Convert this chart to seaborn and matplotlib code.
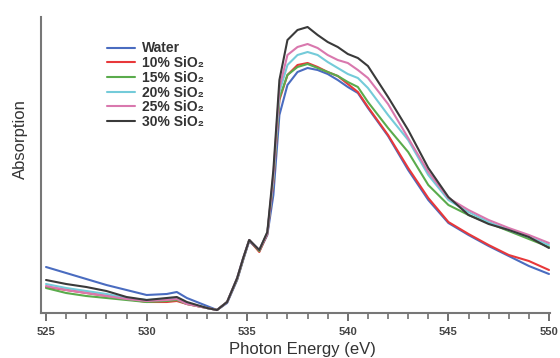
import numpy as np
import pandas as pd
import matplotlib
matplotlib.use("Agg")
import matplotlib.pyplot as plt
import seaborn as sns
from matplotlib.ticker import MultipleLocator

energy = [525, 526, 527, 528, 529, 530, 531, 531.5, 532, 533, 533.5, 534, 534.5, 534.8,
          535.1, 535.6, 536, 536.3, 536.6, 537, 537.5, 538, 538.5, 539, 539.5, 540, 540.5,
          541, 542, 543, 544, 545, 546, 547, 548, 549, 550]

water = [46, 40, 34, 28, 23, 18, 19, 21, 15, 7, 3, 10, 33, 53, 72, 62, 78, 118, 198, 228,
         241, 245, 243, 239, 233, 226, 220, 205, 177, 143, 113, 90, 78, 67, 57, 47, 39]
sio2_10 = [26, 23, 20, 17, 14, 11, 11, 12, 9, 5, 3, 11, 34, 54, 73, 61, 79, 131, 213, 238,
           248, 250, 246, 241, 237, 229, 221, 206, 178, 145, 115, 91, 79, 68, 58, 52, 43]
sio2_15 = [25, 20, 17, 15, 13, 11, 12, 13, 9, 5, 3, 11, 34, 54, 73, 62, 80, 133, 215, 238,
           246, 249, 245, 241, 237, 231, 226, 211, 185, 161, 128, 108, 98, 90, 82, 74, 66]
sio2_20 = [29, 25, 22, 19, 15, 13, 14, 15, 10, 5, 3, 11, 35, 55, 73, 63, 80, 135, 221, 248,
           258, 261, 258, 251, 245, 239, 235, 225, 198, 173, 138, 113, 101, 91, 83, 76, 68]
sio2_25 = [27, 23, 20, 17, 14, 12, 13, 14, 9, 5, 3, 11, 35, 55, 73, 63, 80, 138, 225, 258,
           266, 269, 265, 258, 253, 250, 243, 235, 209, 175, 141, 115, 103, 93, 85, 78, 70]
sio2_30 = [33, 29, 26, 22, 16, 13, 15, 16, 11, 5, 3, 11, 35, 55, 73, 63, 81, 143, 233, 273,
           283, 286, 278, 271, 266, 259, 255, 247, 216, 183, 145, 116, 98, 89, 83, 76, 65]

labels = ["Water", "10% SiO₂", "15% SiO₂", "20% SiO₂", "25% SiO₂", "30% SiO₂"]
series = [water, sio2_10, sio2_15, sio2_20, sio2_25, sio2_30]
colors = ["#4a6cc0", "#e8383a", "#5aab4c", "#74cbd9", "#d978ae", "#3a3a3a"]

df = pd.concat([pd.DataFrame({"Energy": energy, "Absorption": s, "Sample": lab})
                for lab, s in zip(labels, series)], ignore_index=True)

sns.set_style("white")
plt.rcParams['font.family'] = ['Liberation Sans', 'DejaVu Sans']

fig = plt.figure(figsize=(5.6, 3.58), dpi=100)
ax = fig.add_axes([41/560, (358-313)/358, (550-41)/560, (313-17)/358])

sns.lineplot(data=df, x="Energy", y="Absorption", hue="Sample", hue_order=labels,
             palette=dict(zip(labels, colors)), linewidth=1.5, ax=ax, sort=False)

ax.set_xlim(524.75, 550.05)
ax.set_ylim(0, 296)
ax.xaxis.set_major_locator(MultipleLocator(5))
ax.xaxis.set_minor_locator(MultipleLocator(1))
ax.tick_params(axis='x', which='major', direction='out', length=6, width=1.3,
               colors='#666666', labelcolor='#444444', labelsize=8, pad=4, bottom=True)
ax.tick_params(axis='x', which='minor', direction='out', length=4, width=1.1,
               colors='#666666', bottom=True)
for lab in ax.get_xticklabels():
    lab.set_fontweight('bold')
ax.set_yticks([])
for side in ["top", "right"]:
    ax.spines[side].set_visible(False)
for side in ["left", "bottom"]:
    ax.spines[side].set_color('#777777')
    ax.spines[side].set_linewidth(1.5)

ax.set_xlabel("Photon Energy (eV)", fontsize=12, color='#333333')
ax.xaxis.set_label_coords((302-41)/509, -(354-313)/296)
ax.xaxis.label.set_verticalalignment('baseline')
ax.set_ylabel("Absorption", fontsize=12, color='#333333')
ax.yaxis.set_label_coords(-(41-20)/509, (313-139)/296)
ax.yaxis.label.set_verticalalignment('center')

leg = ax.legend(loc='upper left', bbox_to_anchor=((107-41)/509, (313-41.5)/296), frameon=False,
                fontsize=10, handlelength=2.0, handletextpad=0.5, labelspacing=0.05,
                borderaxespad=0, borderpad=0)
for t in leg.get_texts():
    t.set_color('#333333')
    t.set_fontweight('bold')

fig.savefig("out.png", dpi=100)
